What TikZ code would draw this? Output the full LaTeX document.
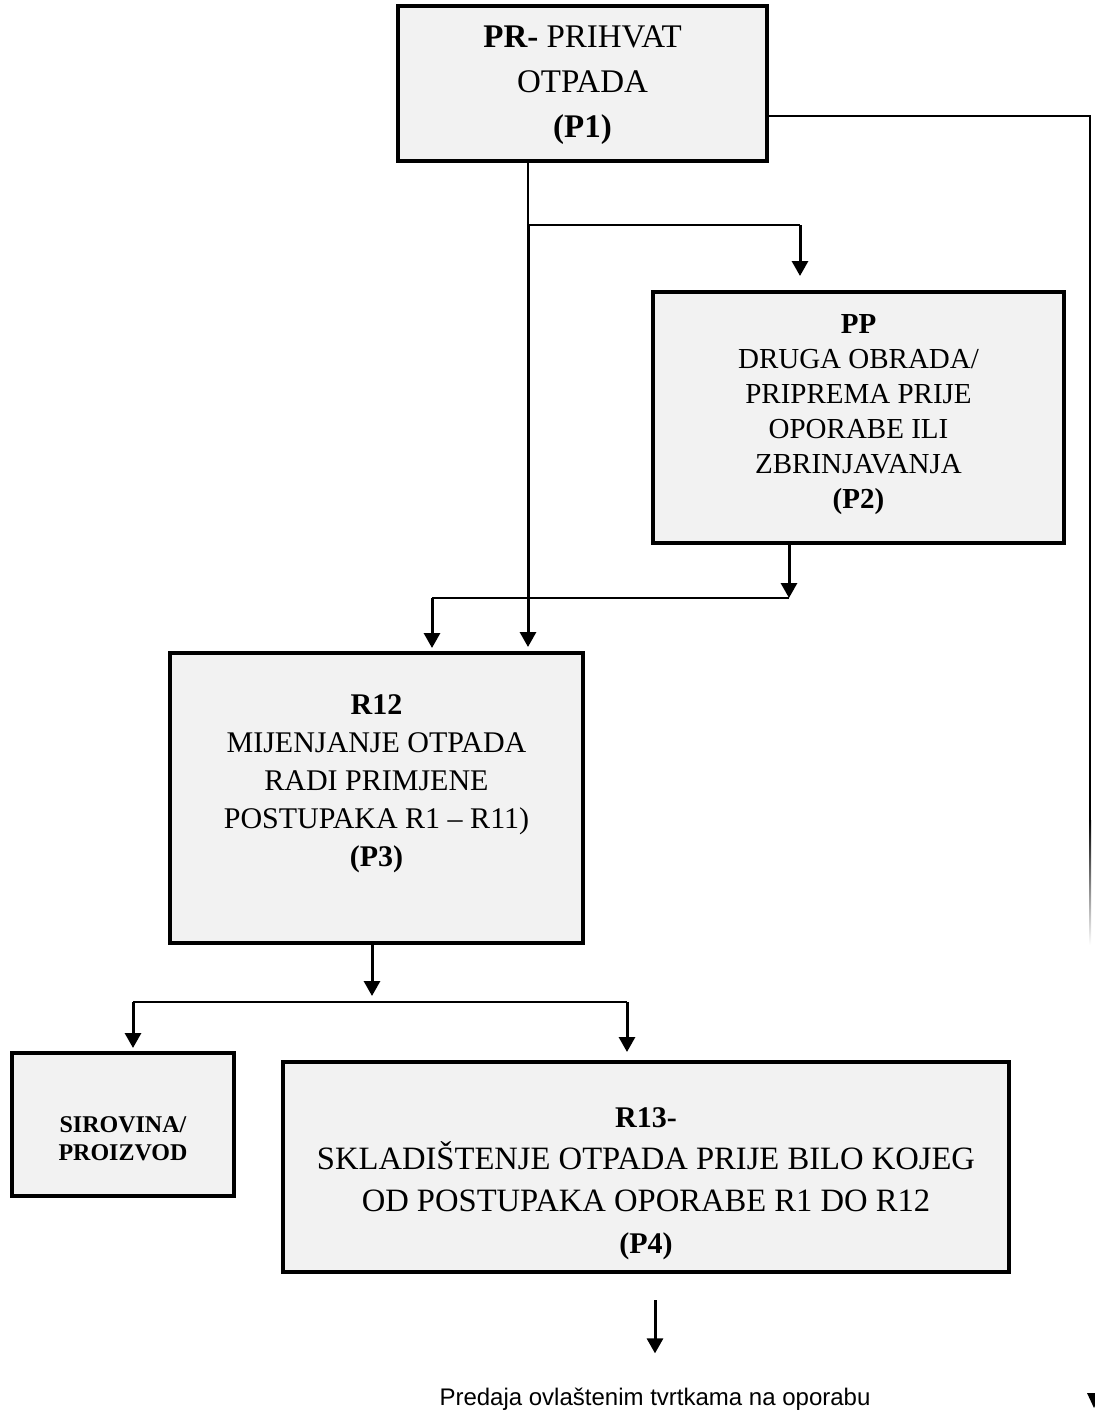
\documentclass[tikz,border=0pt]{standalone}
\usepackage{fontspec}
\setmainfont{Liberation Serif}
\newfontfamily\arialfont{Liberation Sans}
\usetikzlibrary{arrows.meta}
\definecolor{boxgray}{RGB}{242,242,242}
\begin{document}
\begin{tikzpicture}[x=0.5pt,y=-0.5pt]
\tikzstyle{every node}+=[inner sep=0pt]
\tikzstyle{box}=[draw, line width=2pt, fill=boxgray]
\tikzstyle{boxtext}=[align=center, font=\fontsize{15}{19}\selectfont]
\tikzstyle{line}=[line width=1pt]
\tikzstyle{arr}=[line width=1.5pt, -{Triangle[width=8pt,length=7.5pt]}]
\useasboundingbox (0,0) rectangle (1094,1415);
% boxes
\node [box, minimum width=184.5pt, minimum height=77.5pt] (p1) at (582.5,83.5) {};
\node [boxtext, font=\fontsize{16.5}{22.5}\selectfont, yshift=-1pt] at (p1.center) {\textbf{PR-} PRIHVAT\\OTPADA\\\textbf{(P1)}};
\node [box, minimum width=205.5pt, minimum height=125.5pt] (p2) at (858.5,417.5) {};
\node [boxtext, font=\fontsize{14.5}{17.5}\selectfont, yshift=1.5pt] at (p2.center)
  {\textbf{PP}\\DRUGA OBRADA/\\PRIPREMA PRIJE\\OPORABE ILI\\ZBRINJAVANJA\\\textbf{(P2)}};
\node [box, minimum width=206.5pt, minimum height=145pt] (p3) at (376.5,798) {};
\node [boxtext, yshift=7pt] at (p3.center)
  {\textbf{R12}\\MIJENJANJE OTPADA\\RADI PRIMJENE\\POSTUPAKA R1 -- R11)\\\textbf{(P3)}};
\node [box, minimum width=111pt, minimum height=71.5pt] (sp) at (123,1124.5) {};
\node [boxtext, font=\fontsize{12}{14}\bfseries, yshift=-7pt] at (sp.center) {SIROVINA/\\PROIZVOD};
\node [box, minimum width=363pt, minimum height=105pt] (p4) at (646,1167) {};
\node [boxtext, font=\fontsize{16.3}{21}\selectfont, yshift=-8.5pt] at (p4.center)
  {{\fontsize{15}{14}\selectfont\textbf{R13-}}\\SKLADIŠTENJE OTPADA PRIJE BILO KOJEG\\OD POSTUPAKA OPORABE R1 DO R12\\{\fontsize{15}{14}\selectfont\textbf{(P4)}}};
\node [font=\arialfont\fontsize{12}{14}\selectfont] (out) at (655,1399) {Predaja ovlaštenim tvrtkama na oporabu};
% junctions
\coordinate (j1) at (528,225);
\coordinate (j2) at (800,225);
\coordinate (r1) at (1090,116);
\coordinate (r2) at (1090,820);
\coordinate (m1) at (789,598);
\coordinate (m2) at (432,598);
\coordinate (s0) at (372,1002);
\coordinate (s1) at (133,1002);
\coordinate (s2) at (627,1002);
% connectors
\draw [line] (p1.south -| j1) -- (j1) -- (j2);
\draw [arr] (j1) -- ([yshift=2pt]p3.north -| j1);
\draw [arr] (j2) -- ([yshift=7pt]p2.north -| j2);
\draw [line] (p1.east |- r1) -- (r1) -- (r2);
\shade [top color=black, bottom color=white] ([xshift=-0.5pt]r2) rectangle ++(2,125);
\draw [arr] (p2.south -| m1) -- (m1);
\draw [line] (m1) -- (m2);
\draw [arr] (m2) -- ([yshift=1.5pt]p3.north -| m2);
\draw [arr] (p3.south -| s0) -- ([yshift=3pt]s0);
\draw [line] (s1) -- (s2);
\draw [arr] (s1) -- ([yshift=1.5pt]sp.north -| s1);
\draw [arr] (s2) -- ([yshift=4pt]p4.north -| s2);
\draw [arr] ([yshift=-13pt]p4.south -| out) -- ([yshift=17pt]out.north);
\fill (1087,1393) -- (1101,1393) -- (1094,1408) -- cycle;
\end{tikzpicture}
\end{document}
